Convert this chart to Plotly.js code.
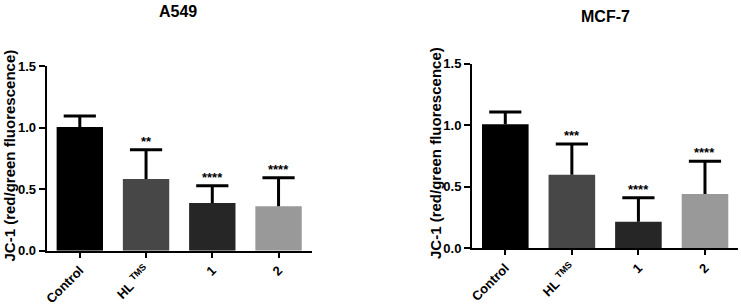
<!DOCTYPE html>
<html>
<head>
<meta charset="utf-8">
<script src="https://cdn.plot.ly/plotly-3.0.1.min.js"></script>
<style>
  html, body { margin: 0; padding: 0; background: #fff; }
  #chart { width: 741px; height: 305px; }
</style>
</head>
<body>
<div id="chart"></div>
<script>
// Treatment groups
const categories = ["Control", "HL <sup>TMS</sup>", "1", "2"];

// A549: mean JC-1 ratio and upper error (SD)
const a549Mean = [1.006, 0.583, 0.388, 0.361];
const a549Err  = [0.090, 0.239, 0.141, 0.233];
const a549Sig  = ["", "**", "****", "****"];

// MCF-7: mean JC-1 ratio and upper error (SD)
const mcf7Mean = [1.008, 0.598, 0.216, 0.441];
const mcf7Err  = [0.100, 0.250, 0.195, 0.266];
const mcf7Sig  = ["", "***", "****", "****"];

const barColors = ["#000000", "#474747", "#262626", "#999999"];
const FONT = "Liberation Sans, Arial, Helvetica, sans-serif";

// bar with an upward error stem (no caps)
function barTrace(means, errs, xa, ya) {
  return {
    type: "bar",
    x: categories,
    y: means,
    xaxis: xa,
    yaxis: ya,
    width: 0.7,
    marker: { color: barColors, line: { width: 0 } },
    error_y: {
      type: "data",
      symmetric: false,
      array: errs,
      arrayminus: means.map(() => 0),
      color: "#000",
      thickness: 3,
      width: 0
    },
    hoverinfo: "skip",
    showlegend: false
  };
}

// horizontal cap at the top of each error stem
function capTrace(means, errs, xa, ya) {
  return {
    type: "scatter",
    mode: "markers",
    x: categories,
    y: means.map((m, i) => m + errs[i]),
    xaxis: xa,
    yaxis: ya,
    marker: { symbol: "line-ew", size: 23, line: { width: 3, color: "#000" } },
    hoverinfo: "skip",
    showlegend: false,
    cliponaxis: false
  };
}

function sigNotes(means, errs, sig, xref, yref) {
  return categories.map((c, i) => ({
    x: i, y: means[i] + errs[i], xref: xref, yref: yref,
    text: sig[i], showarrow: false, yanchor: "bottom", yshift: -1,
    font: { family: FONT, size: 13, color: "#000", weight: "bold" }
  })).filter(a => a.text);
}

const axisX = {
  type: "category",
  showline: true, linewidth: 2, linecolor: "#000",
  ticks: "outside", ticklen: 5, tickwidth: 2, tickcolor: "#000",
  tickangle: -45, showgrid: false, zeroline: false,
  tickfont: { family: FONT, size: 13, color: "#000", weight: "bold" },
  range: [-0.5, 3.5], fixedrange: true
};
const axisY = {
  range: [0, 1.5], dtick: 0.5, tickformat: ".1f",
  showline: true, linewidth: 2, linecolor: "#000",
  ticks: "outside", ticklen: 6, tickwidth: 2, tickcolor: "#000",
  showgrid: false, zeroline: false,
  tickfont: { family: FONT, size: 13, color: "#000", weight: "bold" },
  fixedrange: true
};

const yTitle = "JC-1 (red/green fluorescence)";
const titleFont = { family: FONT, size: 15, color: "#000", weight: "bold" };

const layout = {
  width: 741, height: 305,
  margin: { l: 0, r: 0, t: 0, b: 0, pad: 0 },
  paper_bgcolor: "#fff", plot_bgcolor: "#fff",
  bargap: 0.3,
  xaxis:  Object.assign({}, axisX, { domain: [0.063, 0.4206], anchor: "y" }),
  yaxis:  Object.assign({}, axisY, { domain: [0.178, 0.7826], anchor: "x" }),
  xaxis2: Object.assign({}, axisX, { domain: [0.637, 0.9963], anchor: "y2" }),
  yaxis2: Object.assign({}, axisY, { domain: [0.1859, 0.7911], anchor: "x2" }),
  annotations: [
    { text: "A549", xref: "paper", yref: "paper", x: 178 / 741, y: 1 - 11.5 / 305,
      showarrow: false, xanchor: "center", yanchor: "middle",
      font: { family: FONT, size: 16, color: "#000", weight: "bold" } },
    { text: "MCF-7", xref: "paper", yref: "paper", x: 605 / 741, y: 1 - 16 / 305,
      showarrow: false, xanchor: "center", yanchor: "middle",
      font: { family: FONT, size: 16, color: "#000", weight: "bold" } },
    { text: yTitle, xref: "paper", yref: "paper", x: 9 / 741, y: 1 - 155.5 / 305,
      textangle: -90, showarrow: false, xanchor: "center", yanchor: "middle",
      font: titleFont },
    { text: yTitle, xref: "paper", yref: "paper", x: 435 / 741, y: 1 - 153 / 305,
      textangle: -90, showarrow: false, xanchor: "center", yanchor: "middle",
      font: titleFont }
  ].concat(
    sigNotes(a549Mean, a549Err, a549Sig, "x", "y"),
    sigNotes(mcf7Mean, mcf7Err, mcf7Sig, "x2", "y2")
  )
};

Plotly.newPlot("chart", [
  barTrace(a549Mean, a549Err, "x", "y"),
  capTrace(a549Mean, a549Err, "x", "y"),
  barTrace(mcf7Mean, mcf7Err, "x2", "y2"),
  capTrace(mcf7Mean, mcf7Err, "x2", "y2")
], layout, { staticPlot: true, displayModeBar: false });
</script>
</body>
</html>
